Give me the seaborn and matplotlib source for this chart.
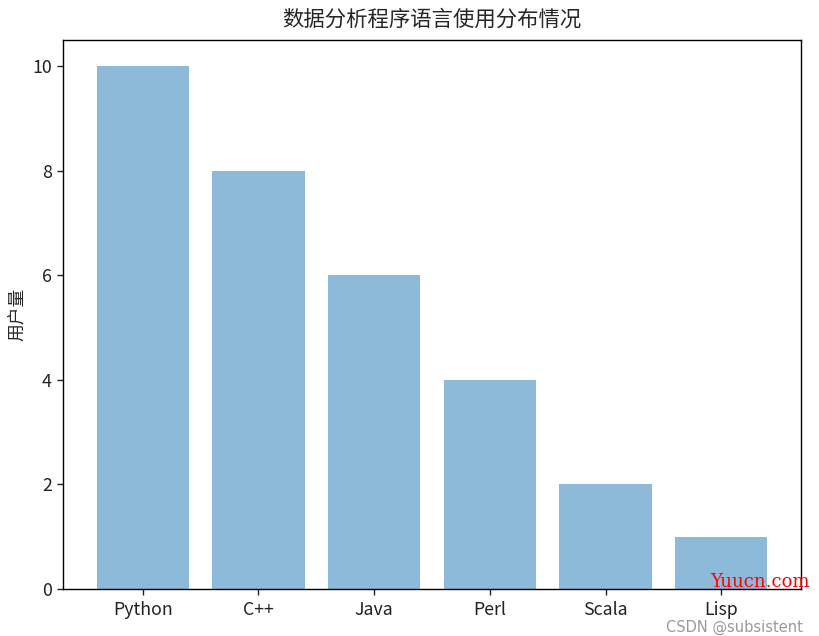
import matplotlib
matplotlib.use("Agg")
import matplotlib.pyplot as plt
import seaborn as sns
import pandas as pd

languages = ["Python", "C++", "Java", "Perl", "Scala", "Lisp"]
users = [10, 8, 6, 4, 2, 1]

sns.set_style("ticks")
plt.rcParams['font.family'] = ['Noto Sans CJK SC', 'DejaVu Sans']
plt.rcParams['axes.unicode_minus'] = False

df = pd.DataFrame({"lang": languages, "users": users})

fig = plt.figure(figsize=(8.19, 6.36), dpi=100)
ax = fig.add_axes([63/819, 1-589/636, (801-63)/819, (589-40)/636])
sns.barplot(data=df, x="lang", y="users", color="#1f77b4", alpha=0.5,
            width=0.8, saturation=1, ax=ax, edgecolor="none")
ax.set_xlim(-0.69, 5.69)
ax.set_ylim(0, 10.5)
ax.set_yticks([0, 2, 4, 6, 8, 10])
ax.set_xlabel("")
ax.set_ylabel("用户量", fontsize=12.8)
ax.set_title("数据分析程序语言使用分布情况", fontsize=15.4, pad=10)
ax.tick_params(labelsize=12.8, length=4.5, width=1.0, colors="#222222")
ax.tick_params(axis="x", pad=4)
for s in ax.spines.values():
    s.set_visible(True)
    s.set_linewidth(1.0)
    s.set_color("black")

fig.text(710/819, 1-582/636, "Yuucn.com", color="red", fontsize=13,
         family="DejaVu Serif", va="center", ha="left")
fig.text(803/819, 1-627/636, "CSDN @subsistent", color="#999999", fontsize=10.5,
         family="DejaVu Sans", va="center", ha="right")

fig.savefig("out.png", dpi=100)
